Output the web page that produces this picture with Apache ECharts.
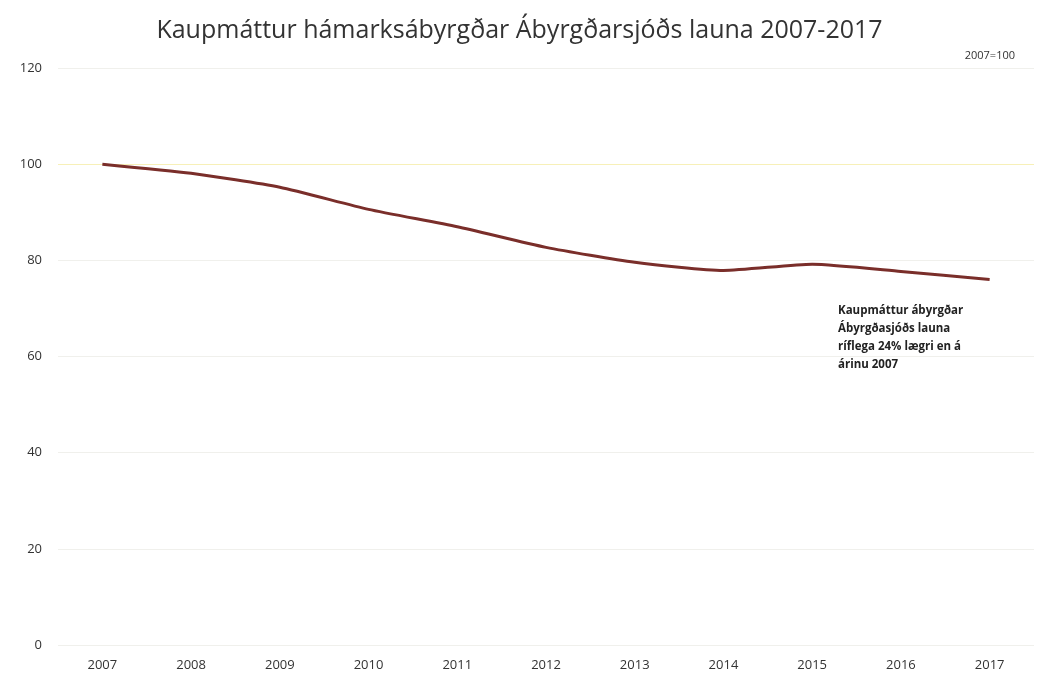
<!DOCTYPE html>
<html>
<head>
<meta charset="utf-8">
<script src="https://cdn.jsdelivr.net/npm/echarts@6/dist/echarts.min.js"></script>
<style>
  html, body { margin: 0; padding: 0; background: #fff; }
  #chart { width: 1039px; height: 677px; }
</style>
</head>
<body>
<div id="chart"></div>
<script>
const ar = ["2007", "2008", "2009", "2010", "2011", "2012", "2013", "2014", "2015", "2016", "2017"];
const kaupmattur = [100, 98.1, 95.2, 90.6, 87.0, 82.7, 79.6, 77.9, 79.2, 77.7, 76.0];
const yTicks = [0, 20, 40, 60, 80, 100, 120];

const chart = echarts.init(document.getElementById("chart"));

// gridline at 100 is a faint yellow, the rest are near-white grey
const gridColors = yTicks.map(v => (v === 100 ? "#f7f0b8" : "#f0f0ec"));

chart.setOption({
  backgroundColor: "#fff",
  animation: false,
  title: {
    text: "Kaupmáttur hámarksábyrgðar Ábyrgðarsjóðs launa 2007-2017",
    left: "center",
    top: 13,
    textStyle: { fontFamily: "Open Sans", fontWeight: "normal", fontSize: 25, color: "#333" }
  },
  grid: { left: 58, right: 5, top: 68, bottom: 32 },
  xAxis: {
    type: "category",
    data: ar,
    boundaryGap: true,
    axisLine: { show: false },
    axisTick: { show: false },
    axisLabel: { fontFamily: "Open Sans", fontSize: 13, color: "#333", margin: 14 }
  },
  yAxis: {
    type: "value",
    min: yTicks[0],
    max: yTicks[yTicks.length - 1],
    interval: 20,
    axisLabel: { fontFamily: "Open Sans", fontSize: 13, color: "#333", margin: 16 },
    splitLine: { lineStyle: { color: gridColors, width: 1 } }
  },
  series: [{
    type: "line",
    data: kaupmattur,
    symbol: "none",
    smooth: 0.2,
    lineStyle: { color: "#7a2e2a", width: 3 }
  }],
  graphic: [
    {
      type: "text",
      right: 24,
      top: 50,
      style: { text: "2007=100", fontFamily: "Open Sans", fontSize: 11, fill: "#333" }
    },
    {
      type: "text",
      left: 838,
      top: 302,
      style: {
        text: "Kaupmáttur ábyrgðar\nÁbyrgðasjóðs launa\nríflega 24% lægri en á\nárinu 2007",
        fontFamily: "Open Sans",
        fontWeight: "bold",
        fontSize: 11.5,
        lineHeight: 18,
        fill: "#222"
      }
    }
  ]
});
</script>
</body>
</html>
